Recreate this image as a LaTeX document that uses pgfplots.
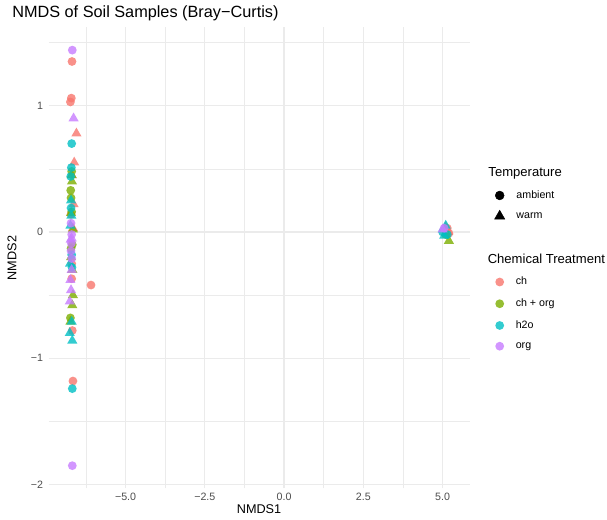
\documentclass[border=0pt]{standalone}
\usepackage{fontspec}
\setmainfont{Liberation Sans}
\usepackage{pgfplots}
\pgfplotsset{compat=1.18}
\definecolor{cch}{HTML}{F8766D}
\definecolor{cchorg}{HTML}{7CAE00}
\definecolor{ch2o}{HTML}{00BFC4}
\definecolor{corg}{HTML}{C77CFF}
\definecolor{gridc}{HTML}{EBEBEB}
\definecolor{tickc}{HTML}{4D4D4D}
\pgfplotsset{
  circ/.style={only marks, mark=*, mark size=3.3pt, color=#1, draw opacity=0, fill opacity=0.8},
  tri/.style={only marks, mark=triangle*, mark size=4.4pt, color=#1, draw opacity=0, fill opacity=0.8},
}
\begin{document}
\begin{tikzpicture}
\path[use as bounding box] (0pt,0pt) rectangle (455.25pt,389.25pt);
\begin{axis}[
  at={(36.4pt,22.95pt)}, anchor=south west,
  scale only axis, width=316.2pt, height=345.75pt,
  xmin=-7.43, xmax=5.87, ymin=-2.03, ymax=1.62,
  xtick={-5,-2.5,0,2.5,5}, xticklabels={−5.0,−2.5,0.0,2.5,5.0},
  ytick={-2,-1,0,1}, yticklabels={−2,−1,0,1},
  minor xtick={-6.25,-3.75,-1.25,1.25,3.75},
  minor ytick={-1.5,-0.5,0.5,1.5},
  grid=both,
  major grid style={gridc, line width=1pt},
  minor grid style={gridc, line width=0.5pt},
  axis line style={draw=none},
  major tick length=0pt, minor tick length=0pt,
  tick label style={font=\fontsize{8}{9.5}\selectfont, text=tickc},
  xticklabel style={inner sep=0pt, yshift=-3.5pt},
  yticklabel style={inner sep=0pt, xshift=-4pt},
  legend cell align=left,
  legend style={at={(1.033,0.708)}, anchor=north west, draw=none, fill=none,
    font=\fontsize{8}{9.5}\selectfont, row sep=5pt, column sep=6.75pt},
]
\addlegendimage{empty legend}
\addlegendentry{\hspace*{-21pt}\fontsize{9.8}{11}\selectfont Temperature}
\addlegendimage{only marks, mark=*, mark size=3.3pt, black}
\addlegendentry{ambient}
\addlegendimage{only marks, mark=triangle*, mark size=4.4pt, black}
\addlegendentry{warm}

% ch ambient
\addplot[circ=cch, forget plot] coordinates {(-6.69,1.35) (-6.71,1.06) (-6.74,1.03) (-6.09,-0.42) (-6.70,-0.37) (-6.68,-0.78) (-6.66,-1.18) (-6.72,0.14) (-6.70,-0.25) (5.15,0.03) (5.20,-0.01)};
% ch warm
\addplot[tri=cch, forget plot] coordinates {(-6.55,0.78) (-6.62,0.55) (-6.66,0.03) (-6.64,0.22) (-6.70,0.45) (5.10,0.04) (5.18,0.00)};
% ch+org ambient
\addplot[circ=cchorg, forget plot] coordinates {(-6.73,0.33) (-6.72,0.27) (-6.70,0.16) (-6.72,-0.13) (-6.74,-0.68) (-6.70,0.48) (-6.68,-0.10) (5.10,-0.02)};
% ch+org warm
\addplot[tri=cchorg, forget plot] coordinates {(-6.70,0.45) (-6.69,0.40) (-6.72,0.15) (-6.66,0.02) (-6.68,-0.30) (-6.66,-0.50) (-6.68,-0.58) (-6.72,-0.20) (-6.74,-0.71) (5.20,-0.07)};
% h2o ambient
\addplot[circ=ch2o, forget plot] coordinates {(-6.70,0.70) (-6.71,0.51) (-6.72,0.19) (-6.70,-0.18) (-6.69,-0.28) (-6.68,-1.24) (-6.73,0.44) (5.00,0.00) (5.15,-0.02)};
% h2o warm
\addplot[tri=ch2o, forget plot] coordinates {(-6.72,0.25) (-6.74,0.05) (-6.75,-0.25) (-6.70,-0.71) (-6.76,-0.80) (-6.68,-0.86) (-6.71,0.13) (5.10,0.05) (5.05,-0.03)};
% org ambient
\addplot[circ=corg, forget plot] coordinates {(-6.68,1.44) (-6.72,0.07) (-6.70,-0.02) (-6.71,-0.09) (-6.70,-0.21) (-6.68,-1.85) (-6.72,-0.15) (5.05,0.03)};
% org warm
\addplot[tri=corg, forget plot] coordinates {(-6.64,0.90) (-6.73,-0.06) (-6.70,-0.30) (-6.74,-0.38) (-6.72,-0.46) (-6.76,-0.55) (-6.70,-0.05) (5.00,0.02)};
\end{axis}

\begin{axis}[
  at={(36.4pt,22.95pt)}, anchor=south west,
  scale only axis, width=316.2pt, height=345.75pt,
  xmin=0, xmax=1, ymin=0, ymax=1, hide axis,
  legend cell align=left,
  legend style={at={(1.033,0.5213)}, anchor=north west, draw=none, fill=none,
    font=\fontsize{8}{9.5}\selectfont, row sep=5pt, column sep=6.75pt},
]
\addlegendimage{empty legend}
\addlegendentry{\hspace*{-21pt}\fontsize{9.8}{11}\selectfont Chemical Treatment}
\addlegendimage{only marks, mark=*, mark size=3.3pt, color=cch, draw opacity=0, fill opacity=0.8}
\addlegendentry{ch}
\addlegendimage{only marks, mark=*, mark size=3.3pt, color=cchorg, draw opacity=0, fill opacity=0.8}
\addlegendentry{ch + org}
\addlegendimage{only marks, mark=*, mark size=3.3pt, color=ch2o, draw opacity=0, fill opacity=0.8}
\addlegendentry{h2o}
\addlegendimage{only marks, mark=*, mark size=3.3pt, color=corg, draw opacity=0, fill opacity=0.8}
\addlegendentry{org}
\end{axis}

\node[anchor=west, inner sep=0pt, font=\fontsize{12.2}{14}\selectfont] at (9pt,379.5pt) {NMDS of Soil Samples (Bray−Curtis)};
\node[font=\fontsize{9.5}{11}\selectfont] at (194.3pt,7.5pt) {NMDS1};
\node[rotate=90, font=\fontsize{9.5}{11}\selectfont] at (9pt,195.75pt) {NMDS2};
\end{tikzpicture}
\end{document}
